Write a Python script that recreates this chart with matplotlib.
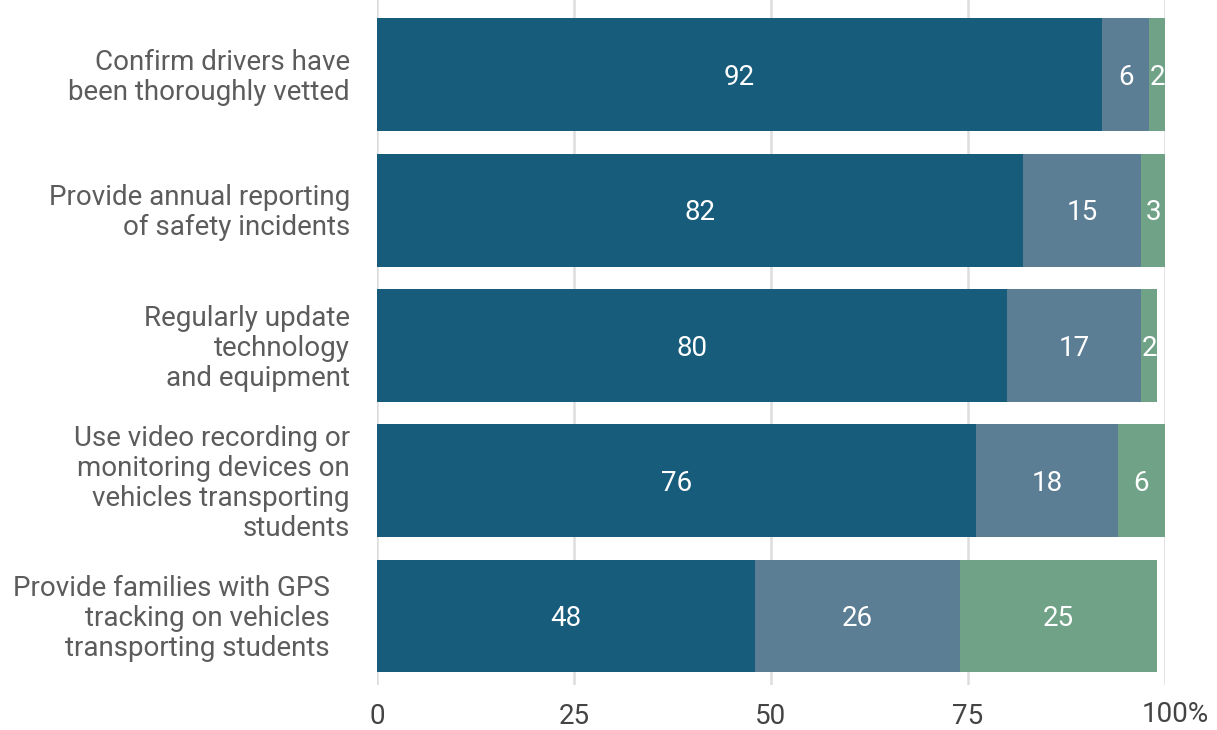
import matplotlib
matplotlib.use("Agg")
import matplotlib.pyplot as plt

categories = [
    "Confirm drivers have\nbeen thoroughly vetted",
    "Provide annual reporting\nof safety incidents",
    "Regularly update\ntechnology\nand equipment",
    "Use video recording or\nmonitoring devices on\nvehicles transporting\nstudents",
    "Provide families with GPS\ntracking on vehicles\ntransporting students",
]
series1 = [92, 82, 80, 76, 48]
series2 = [6, 15, 17, 18, 26]
series3 = [2, 3, 2, 6, 25]
xticks = [0, 25, 50, 75, 100]
xticklabels = ["0", "25", "50", "75", "100%"]

colors = ["#185c7c", "#5b7e95", "#6fa287"]

plt.rcParams['font.family'] = ['Roboto', 'DejaVu Sans']

fig = plt.figure(figsize=(12.17, 7.30), dpi=100)
ax = fig.add_axes([377/1217, 1-685/730, 788/1217, 685/730])

ypos = list(range(len(categories)))
h = 0.835
dy = 0.02  # small downward nudge of text
left = [0]*len(categories)
for vals, c in zip([series1, series2, series3], colors):
    ax.barh(ypos, vals, left=left, height=h, color=c, zorder=2)
    for y, v, l in zip(ypos, vals, left):
        ax.text(l + v/2, y + dy, str(v), ha="center", va="center",
                color="white", fontsize=20, zorder=3)
    left = [a + b for a, b in zip(left, vals)]

ax.set_xlim(0, 100)
ax.set_ylim(4.51, -0.554)
ax.set_xticks(xticks)
ax.set_xticklabels(xticklabels[:-1] + [""], fontsize=20, color="#444444")
ax.tick_params(axis="x", length=0, pad=13)
ax.set_yticks([])
for s in ax.spines.values():
    s.set_visible(False)
ax.grid(axis="x", color="#dddddd", linewidth=1.8, zorder=0)
ax.set_axisbelow(True)

# last tick label: "100" centred on the tick, "%" appended
ax.annotate(xticklabels[-1], xy=(xticks[-1], 0), xycoords=ax.get_xaxis_transform(),
            xytext=(-23*0.72, -11.5), textcoords="offset points",
            ha="left", va="top", fontsize=20, color="#444444")

for y, lab in zip(ypos, categories):
    off = -47/788 if y == 4 else -27/788
    ax.text(off, y + dy, lab, transform=ax.get_yaxis_transform(), ha="right",
            va="center", fontsize=20, color="#5c5c5c", linespacing=1.14,
            multialignment="right")

fig.savefig("out.png", dpi=100)
